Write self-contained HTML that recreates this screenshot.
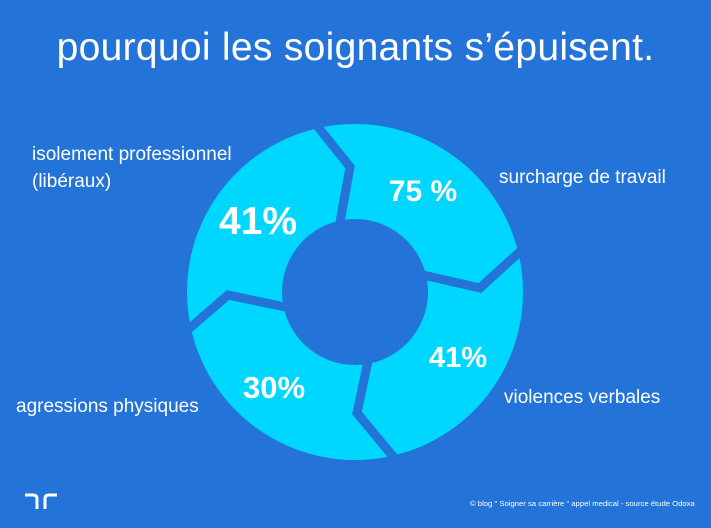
<!DOCTYPE html>
<html><head><meta charset="utf-8"><style>
body{margin:0;width:711px;height:528px;background:#2373d9;overflow:hidden;font-family:"Liberation Sans",sans-serif;color:#fff;position:relative}
.t{position:absolute;white-space:nowrap}
</style></head><body>
<svg width="711" height="528" style="position:absolute;left:0;top:0">
<circle cx="355" cy="292" r="168" fill="#00d7fe"/>
<circle cx="355" cy="292" r="73" fill="#2373d9"/>
<g fill="none" stroke="#2373d9" stroke-width="9" stroke-linejoin="miter">
<polyline points="314,122 350,167 340,222"/>
<polyline points="524,248 480,288 423,275"/>
<polyline points="396,460 357,413 368,361"/>
<polyline points="184,333 228,295 285,307"/>
</g>
<g fill="#fff" font-family="Liberation Sans,sans-serif" font-weight="bold">
<text x="258" y="234" text-anchor="middle" font-size="39">41%</text>
<text x="423" y="201" text-anchor="middle" font-size="30">75 %</text>
<text x="458" y="367" text-anchor="middle" font-size="29">41%</text>
<text x="274" y="398" text-anchor="middle" font-size="31">30%</text>
</g>
<path d="M25 495 h8 q4 0 4 4 v10 M45 509 v-10 q0 -4 4 -4 h8" stroke="#fff" stroke-width="3" fill="none"/>
</svg>
<div class="t" style="left:0;width:711px;text-align:center;top:26px;font-size:39px;letter-spacing:0.3px">pourquoi les soignants s’épuisent.</div>
<div class="t" style="left:32px;top:141px;font-size:19px;line-height:27px">isolement professionnel<br>(libéraux)</div>
<div class="t" style="left:499px;top:167px;font-size:19px">surcharge de travail</div>
<div class="t" style="left:504px;top:387px;font-size:19px">violences verbales</div>
<div class="t" style="left:16px;top:396px;font-size:19px">agressions physiques</div>
<div class="t" style="left:470px;top:499px;font-size:7.7px">© blog " Soigner sa carrière " appel medical - source étude Odoxa</div>
</body></html>
